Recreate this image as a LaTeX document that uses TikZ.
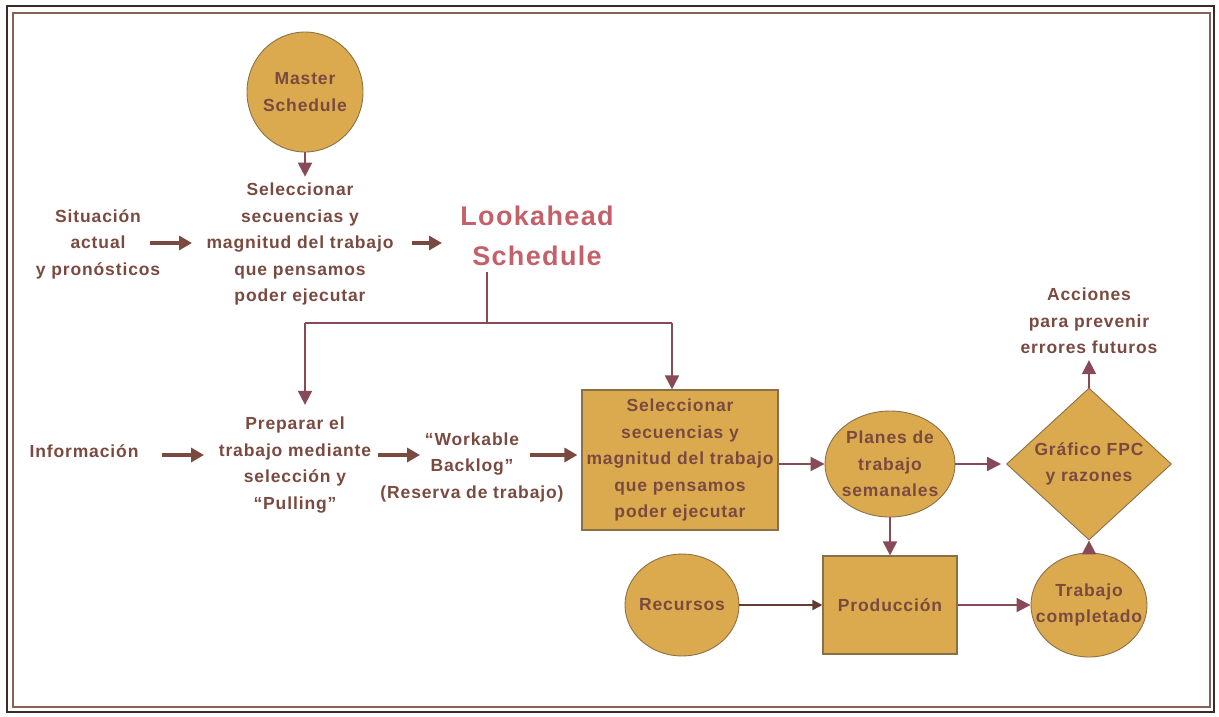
\documentclass[tikz,border=0pt]{standalone}
\usepackage{fontspec}
\setmainfont[LetterSpace=5]{Liberation Sans}
\usetikzlibrary{shapes.geometric,arrows.meta}
\definecolor{txt}{HTML}{7A4A40}
\definecolor{arr}{HTML}{874A56}
\definecolor{gold}{HTML}{DCAA4E}
\definecolor{edge}{HTML}{8A7048}
\definecolor{look}{HTML}{C4606A}
\definecolor{frameA}{HTML}{3A2A2A}
\definecolor{frameB}{HTML}{8A6055}
\tikzset{
  fnt/.style={font=\bfseries\fontsize{17.5}{26.5}\selectfont},
  lbl/.style={text=txt,fnt,align=center,inner sep=0pt},
  circ/.style={ellipse,draw=edge,line width=0.9pt,fill=gold,inner sep=-12pt,text=txt,fnt,align=center},
  boxn/.style={rectangle,draw=edge,line width=1.2pt,fill=gold,inner sep=0pt,text=txt,fnt,align=center},
  thickarr/.style={draw=txt,line width=3.2pt,-{Triangle[length=13pt,width=14pt]}},
  flow/.style={draw=arr,line width=2pt,-{Triangle[length=14pt,width=14pt]}},
  plain/.style={draw=arr,line width=2pt},
}
\begin{document}
\begin{tikzpicture}[x=1pt,y=-1pt]
\useasboundingbox (0,0) rectangle (1219,716);
% frame
\draw[frameA,line width=2.5pt] (7,6) rectangle (1214,712);
\draw[frameB,line width=1.6pt] (13,13) rectangle (1210,707);

% top part
\node[circ,minimum width=116pt,minimum height=120pt] (master) at (305,92) {Master\\Schedule};
\node[lbl] (sel1) at (300,244) {Seleccionar\\secuencias y\\magnitud del trabajo\\que pensamos\\poder ejecutar};
\node[lbl] (sit) at (98,244) {Situación\\actual\\y pronósticos};
\node[text=look,font=\bfseries\fontsize{27}{40}\selectfont,align=center,inner sep=0pt] (look) at (537,236) {Lookahead\\Schedule};

\draw[flow] (master.south) -- ([yshift=6pt]sel1.north -| master.south);
\draw[thickarr] ([xshift=52pt]sit.center |- 0,243) -- ([xshift=-108pt]sel1.center |- 0,243);
\draw[thickarr] ([xshift=112pt]sel1.center |- 0,243) -- ([xshift=-95pt]look.center |- 0,243);

% branch
\coordinate (j0) at (487,272);
\coordinate (j1) at (487,323);
\coordinate (jl) at (305,323);
\coordinate (jr) at (672,323);

% middle row
\node[lbl] (info) at (84,451) {Información};
\node[lbl] (prep) at (295,465) {Preparar el\\trabajo mediante\\selección y\\“Pulling”};
\node[lbl] (work) at (472,467) {“Workable\\Backlog”\\(Reserva de trabajo)};
\node[boxn,minimum width=196pt,minimum height=140pt] (sel2) at (680,460) {Seleccionar\\secuencias y\\magnitud del trabajo\\que pensamos\\poder ejecutar};

\draw[plain] (j0) -- (j1);
\draw[plain] (jl) -- (jr);
\draw[flow] (jl) -- ([yshift=12pt]prep.north -| jl);
\draw[flow] (jr) -- (sel2.north -| jr);

\draw[thickarr] ([xshift=78pt]info.center |- 0,455) -- ([xshift=-91pt]prep.center |- 0,455);
\draw[thickarr] ([xshift=83pt]prep.center |- 0,455) -- ([xshift=-52pt]work.center |- 0,455);
\draw[thickarr] ([xshift=58pt]work.center |- 0,455) -- ([xshift=-4pt]sel2.west |- 0,455);

% right part
\node[circ,minimum width=130pt,minimum height=106pt] (plan) at (890,464) {Planes de\\trabajo\\semanales};
\node[diamond,draw=edge,line width=0.9pt,fill=gold,inner sep=0pt,minimum width=165pt,minimum height=130pt,text=txt,fnt,align=center] (graf) at (1089,464) {Gráfico FPC\\y razones};
\node[lbl] (acc) at (1089,321) {Acciones\\para prevenir\\errores futuros};
\node[boxn,minimum width=134pt,minimum height=98pt] (prod) at (890,605) {Producción};
\node[circ,minimum width=114pt,minimum height=102pt] (rec) at (682,605) {Recursos};
\node[circ,minimum width=116pt,minimum height=104pt,inner sep=-16pt] (trab) at (1089,605) {Trabajo\\completado};

\draw[flow] (sel2.east |- plan.west) -- (plan.west);
\draw[flow] (plan.east) -- ([xshift=-5pt]graf.west);
\draw[flow] (graf.north) -- ([yshift=-6pt]acc.south);
\draw[flow] (plan.south) -- (prod.north);
\draw[draw=txt!80!black,line width=2pt,-{Triangle[length=10pt,width=10pt]}] (rec.east) -- (prod.west);
\draw[flow] (prod.east) -- (trab.west);
\draw[flow] (trab.north) -- (graf.south);
\end{tikzpicture}
\end{document}
